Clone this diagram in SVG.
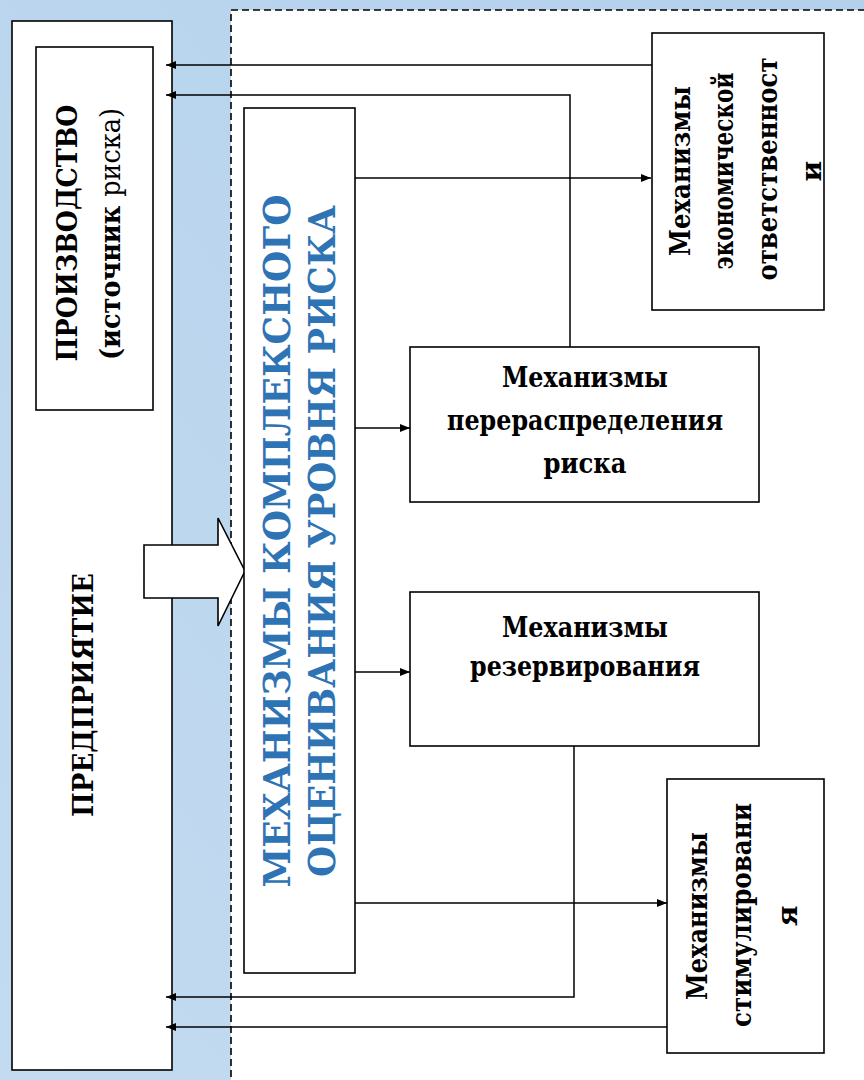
<svg xmlns="http://www.w3.org/2000/svg" width="864" height="1080" viewBox="0 0 864 1080">
  <defs>
    <linearGradient id="bg" x1="0" y1="1" x2="1" y2="0">
      <stop offset="0" stop-color="#c3dbf0"/>
      <stop offset="1" stop-color="#b3d0ec"/>
    </linearGradient>
    <marker id="arr" viewBox="0 0 10 8" refX="10" refY="4" markerWidth="10" markerHeight="8" markerUnits="userSpaceOnUse" orient="auto">
      <path d="M0,0 L10,4 L0,8 Z" fill="#000"/>
    </marker>
    <style>
      .box { fill: #fff; stroke: #000; stroke-width: 1.6; }
      .lbl { font-family: "DejaVu Serif", "Liberation Serif", serif; font-weight: bold; font-size: 28px; fill: #000; text-anchor: middle; }
      .big { font-family: "DejaVu Serif", "Liberation Serif", serif; font-weight: bold; font-size: 38px; fill: #2e74b5; text-anchor: middle; }
      .reg { font-weight: normal; }
      .conn { fill: none; stroke: #000; stroke-width: 1.5; }
    </style>
  </defs>

  <!-- background and dashed zone -->
  <rect x="0" y="0" width="864" height="1080" fill="url(#bg)"/>
  <rect x="231" y="10" width="660" height="1100" fill="#fff" stroke="#000" stroke-width="1.6" stroke-dasharray="7,4"/>

  <!-- enterprise -->
  <g id="enterprise">
    <rect class="box" x="12" y="21" width="160" height="1049"/>
    <text class="lbl" transform="translate(93,695) rotate(-90)" textLength="244" lengthAdjust="spacingAndGlyphs">ПРЕДПРИЯТИЕ</text>
  </g>

  <g id="production">
    <rect class="box" x="36" y="47" width="117" height="363"/>
    <text class="lbl" transform="translate(77,233) rotate(-90)" textLength="257" lengthAdjust="spacingAndGlyphs">ПРОИЗВОДСТВО</text>
    <text class="lbl" transform="translate(120,234) rotate(-90)" textLength="252" lengthAdjust="spacingAndGlyphs">(источник <tspan class="reg">риска)</tspan></text>
  </g>

  <!-- block arrow -->
  <g id="flow-arrow">
    <path d="M144,545 H218 V518 L245,571 L218,626 V598 H144 Z" fill="#fff" stroke="#000" stroke-width="1.6" stroke-linejoin="miter"/>
  </g>

  <g id="assessment">
    <rect class="box" x="244" y="108" width="111" height="865"/>
    <text class="big" transform="translate(290,541) rotate(-90)" textLength="693" lengthAdjust="spacingAndGlyphs">МЕХАНИЗМЫ КОМПЛЕКСНОГО</text>
    <text class="big" transform="translate(335,541) rotate(-90)" textLength="672" lengthAdjust="spacingAndGlyphs">ОЦЕНИВАНИЯ УРОВНЯ РИСКА</text>
  </g>

  <g id="responsibility">
    <rect class="box" x="652" y="33" width="172" height="277"/>
    <text class="lbl" transform="translate(690,171) rotate(-90)" textLength="170" lengthAdjust="spacingAndGlyphs">Механизмы</text>
    <text class="lbl" transform="translate(733,171) rotate(-90)" textLength="197" lengthAdjust="spacingAndGlyphs">экономической</text>
    <text class="lbl" transform="translate(777,169) rotate(-90)" textLength="223" lengthAdjust="spacingAndGlyphs">ответственност</text>
    <text class="lbl" transform="translate(821,171) rotate(-90)">и</text>
  </g>

  <g id="redistribution">
    <rect class="box" x="410" y="347" width="349" height="155"/>
    <text class="lbl" x="585" y="387" textLength="166" lengthAdjust="spacingAndGlyphs">Механизмы</text>
    <text class="lbl" x="585" y="430" textLength="276" lengthAdjust="spacingAndGlyphs">перераспределения</text>
    <text class="lbl" x="585" y="473" textLength="83" lengthAdjust="spacingAndGlyphs">риска</text>
  </g>

  <g id="reserving">
    <rect class="box" x="410" y="592" width="349" height="154"/>
    <text class="lbl" x="585" y="637" textLength="166" lengthAdjust="spacingAndGlyphs">Механизмы</text>
    <text class="lbl" x="585" y="676" textLength="230" lengthAdjust="spacingAndGlyphs">резервирования</text>
  </g>

  <g id="stimulation">
    <rect class="box" x="667" y="779" width="157" height="274"/>
    <text class="lbl" transform="translate(707,916) rotate(-90)" textLength="168" lengthAdjust="spacingAndGlyphs">Механизмы</text>
    <text class="lbl" transform="translate(751,915) rotate(-90)" textLength="224" lengthAdjust="spacingAndGlyphs">стимулировани</text>
    <text class="lbl" transform="translate(797,916) rotate(-90)">я</text>
  </g>

  <!-- connectors -->
  <g id="connectors">
    <path class="conn" d="M652,65 H166" marker-end="url(#arr)"/>
    <path class="conn" d="M570,347 V95 H166" marker-end="url(#arr)"/>
    <path class="conn" d="M355,178 H651" marker-end="url(#arr)"/>
    <path class="conn" d="M355,428 H410" marker-end="url(#arr)"/>
    <path class="conn" d="M355,672 H410" marker-end="url(#arr)"/>
    <path class="conn" d="M355,903 H667" marker-end="url(#arr)"/>
    <path class="conn" d="M574,746 V997 H166" marker-end="url(#arr)"/>
    <path class="conn" d="M667,1027 H166" marker-end="url(#arr)"/>
  </g>
</svg>
